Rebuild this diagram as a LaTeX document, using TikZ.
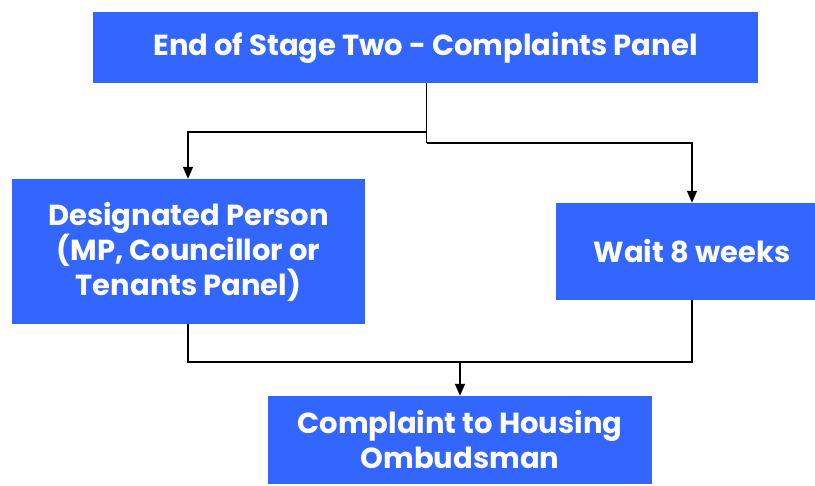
\documentclass[tikz,border=0pt]{standalone}
\usepackage{fontspec}
\setmainfont{Poppins}[BoldFont={Poppins Bold}]
\usetikzlibrary{arrows.meta}
\definecolor{boxblue}{HTML}{3366FF}
\begin{document}
\begin{tikzpicture}[x=1pt,y=-1pt,
  box/.style={fill=boxblue,draw=none,text=white,font=\bfseries\fontsize{29}{35}\selectfont,align=center,inner sep=0pt},
  conn/.style={draw=black,line width=1.6pt},
  arr/.style={conn,-{Triangle[length=12pt,width=10pt]}}]
\useasboundingbox (0,0) rectangle (815,486);
\node[box,minimum width=665pt,minimum height=71pt] (top) at (425.5,47.5) {\raisebox{-3pt}{End of Stage Two - Complaints Panel}};
\node[box,minimum width=353pt,minimum height=145pt] (left) at (188.5,251.5) {Designated Person\\(MP, Councillor or\\Tenants Panel)};
\node[box,minimum width=259pt,minimum height=97pt] (right) at (685.5,251.5) {\hspace*{13pt}Wait 8 weeks};
\node[box,minimum width=384pt,minimum height=88pt] (bottom) at (460,440) {Complaint to Housing\\Ombudsman};
\coordinate (s1) at (426.5,132);
\coordinate (s2) at (426.5,143);
\coordinate (lj) at (188,132);
\coordinate (rj) at (692,143);
\coordinate (lb) at (188,362);
\coordinate (rb) at (692,362);
\coordinate (mb) at (460,362);
\draw[conn] (top.south -| s1) -- (s2);
\draw[arr] (s1) -- (lj) -- (lj |- left.north);
\draw[arr] (s2) -- (rj) -- (rj |- right.north);
\draw[conn] (lb |- left.south) -- (lb) -- (rb) -- (rb |- right.south);
\draw[arr] (mb) -- (mb |- bottom.north);
\end{tikzpicture}
\end{document}
